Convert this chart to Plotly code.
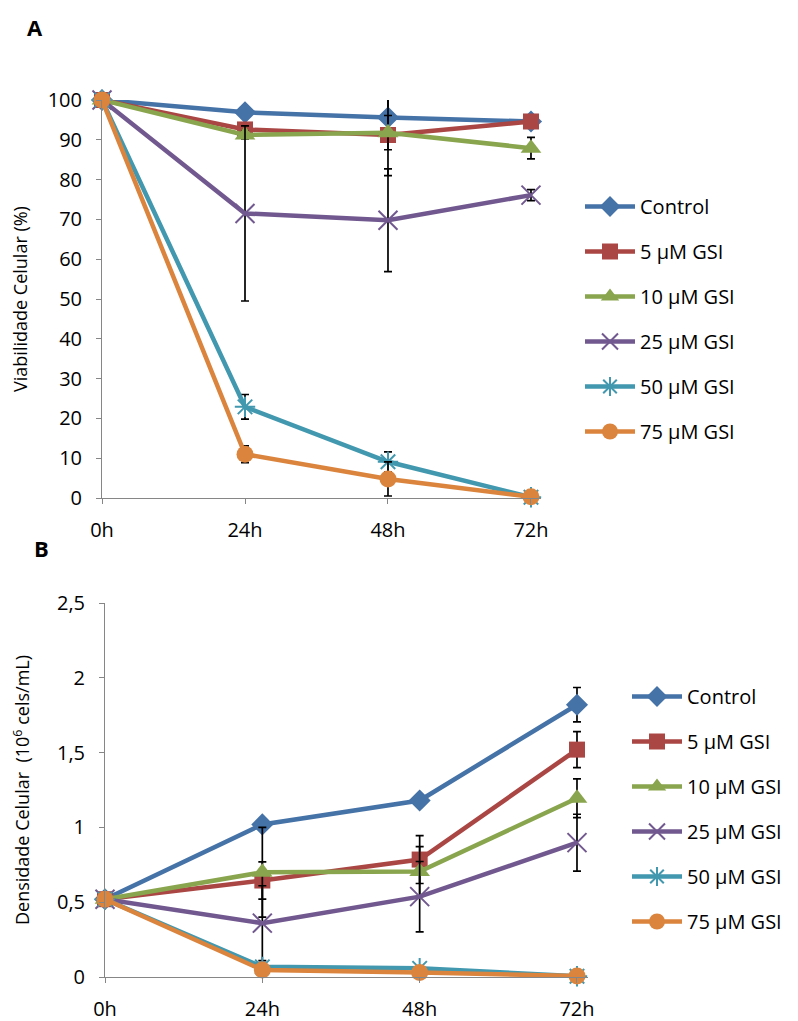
import plotly.graph_objects as go

# page is rendered inside an 8px body margin
OFF = 8
W, H = 790, 1013

times = ["0h", "24h", "48h", "72h"]
series_names = ["Control", "5 µM GSI", "10 µM GSI", "25 µM GSI", "50 µM GSI", "75 µM GSI"]
colors = ["#4572A7", "#AA4643", "#89A54E", "#71588F", "#4198AF", "#DB843D"]
symbols = ["diamond", "square", "triangle-up", "x-thin-open", "asterisk-open", "circle"]

# Panel A: viability (%)
via_control = [100, 96.9, 95.6, 94.6]
via_5 = [100, 92.6, 91.2, 94.6]
via_10 = [100, 91.2, 91.8, 87.9]
via_25 = [100, 71.5, 69.8, 76.1]
via_50 = [100, 22.9, 9.1, 0.2]
via_75 = [100, 11.0, 4.8, 0.3]
via_err_control = [0, 1.0, 4.9, 0.5]
via_err_5 = [0, 1.5, 10.2, 1.0]
via_err_10 = [0, 1.0, 4.3, 2.7]
via_err_25 = [0, 22.0, 12.9, 1.4]
via_err_50 = [0, 3.1, 2.5, 0]
via_err_75 = [0, 2.1, 4.3, 0]

# Panel B: cell density (10^6 cells/mL)
den_control = [0.52, 1.02, 1.18, 1.82]
den_5 = [0.52, 0.645, 0.785, 1.52]
den_10 = [0.52, 0.70, 0.705, 1.195]
den_25 = [0.52, 0.36, 0.537, 0.898]
den_50 = [0.52, 0.068, 0.058, 0.005]
den_75 = [0.52, 0.047, 0.030, 0.007]
den_err_control = [0, 0.02, 0.02, 0.115]
den_err_5 = [0, 0.125, 0.16, 0.12]
den_err_10 = [0, 0.30, 0.167, 0.13]
den_err_25 = [0, 0.25, 0.235, 0.19]
den_err_50 = [0, 0.01, 0.01, 0]
den_err_75 = [0, 0.01, 0.01, 0]

via_ticks = [0, 10, 20, 30, 40, 50, 60, 70, 80, 90, 100]
den_tickvals = [0, 0.5, 1, 1.5, 2, 2.5]
den_ticktext = ["0", "0,5", "1", "1,5", "2", "2,5"]

via_vals = [via_control, via_5, via_10, via_25, via_50, via_75]
via_errs = [via_err_control, via_err_5, via_err_10, via_err_25, via_err_50, via_err_75]
den_vals = [den_control, den_5, den_10, den_25, den_50, den_75]
den_errs = [den_err_control, den_err_5, den_err_10, den_err_25, den_err_50, den_err_75]

FONT = "Open Sans"
msizes = [17, 16, 18, 19, 17, 17]


def px_x(p):
    return (p - OFF) / W


def px_y(p):
    return 1 - (p - OFF) / H


fig = go.Figure()


def add_series(vals, errs, xa, ya, legend):
    for i, name in enumerate(series_names):
        open_sym = symbols[i].endswith("open")
        fig.add_trace(go.Scatter(
            x=times, y=vals[i], name=name, mode="lines+markers",
            xaxis=xa, yaxis=ya, legend=legend, legendgroup=legend + str(i),
            line=dict(color=colors[i], width=4.5),
            marker=dict(symbol=symbols[i], size=msizes[i], color=colors[i],
                        line=dict(color=colors[i], width=2 if open_sym else 0)),
            error_y=dict(type="data", array=errs[i], visible=True,
                         color="black", thickness=1.7, width=4),
            cliponaxis=False,
        ))


add_series(via_vals, via_errs, "x", "y", "legend")
add_series(den_vals, den_errs, "x2", "y2", "legend2")

axis_common = dict(showline=True, linecolor="#868686", linewidth=1, showgrid=False,
                   zeroline=False, ticks="outside", ticklen=5, tickcolor="#868686",
                   automargin=False,
                   tickfont=dict(family=FONT, size=20, color="black"))

fig.update_layout(
    width=W, height=H, paper_bgcolor="white", plot_bgcolor="white",
    margin=dict(l=0, r=0, t=0, b=0),
    font=dict(family=FONT, color="black"),
    xaxis=dict(domain=[px_x(102), px_x(541)], anchor="y", type="category",
               range=[0, 3.07], ticklabelstandoff=9, **axis_common),
    yaxis=dict(domain=[px_y(498), px_y(100)], anchor="x", range=[0, 100],
               tickvals=via_ticks, ticklabelstandoff=10,
               title=dict(text="Viabilidade Celular (%)", font=dict(family=FONT, size=18), standoff=16),
               **axis_common),
    xaxis2=dict(domain=[px_x(105), px_x(588)], anchor="y2", type="category",
                range=[0, 3.07], ticklabelstandoff=9, **axis_common),
    yaxis2=dict(domain=[px_y(977), px_y(603)], anchor="x2", range=[0, 2.5],
                tickvals=den_tickvals, ticktext=den_ticktext, ticklabelstandoff=10,
                title=dict(text="Densidade Celular  (10<sup>6</sup> cels/mL)",
                           font=dict(family=FONT, size=18), standoff=22),
                **axis_common),
    legend=dict(x=px_x(580), y=px_y(187), xanchor="left", yanchor="top",
                font=dict(family=FONT, size=20), tracegroupgap=16, itemwidth=50,
                bgcolor="rgba(0,0,0,0)"),
    legend2=dict(x=px_x(627), y=px_y(677), xanchor="left", yanchor="top",
                 font=dict(family=FONT, size=20), tracegroupgap=16, itemwidth=50,
                 bgcolor="rgba(0,0,0,0)"),
    annotations=[
        dict(text="<b>A</b>", x=px_x(35), y=px_y(27), xref="paper", yref="paper",
             xanchor="center", yanchor="middle",
             showarrow=False, font=dict(family=FONT, size=22)),
        dict(text="<b>B</b>", x=px_x(41), y=px_y(548), xref="paper", yref="paper",
             xanchor="center", yanchor="middle",
             showarrow=False, font=dict(family=FONT, size=22)),
    ],
)

fig.write_html("out.html")
